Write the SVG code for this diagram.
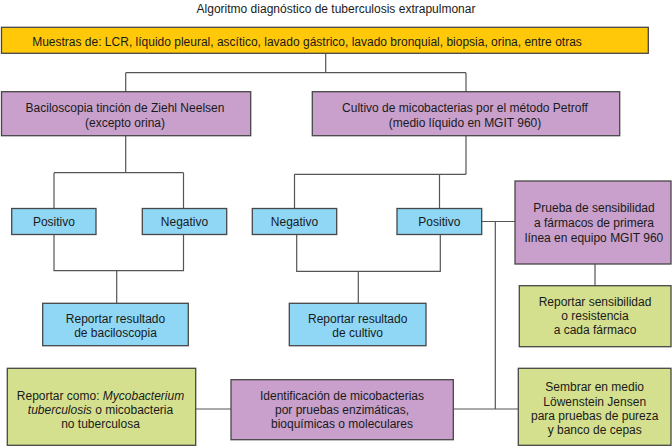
<svg xmlns="http://www.w3.org/2000/svg" width="672" height="447" viewBox="0 0 672 447">
<style>
  text { font-family: "Liberation Sans", Arial, sans-serif; font-size: 12px; fill: #1a1a1a; text-anchor: middle; }
  .box { stroke: #474747; stroke-width: 1.3; }
  .yellow { fill: #FFC90A; }
  .purple { fill: #C8A0CB; }
  .blue { fill: #8FD7F5; }
  .green { fill: #D5E08E; }
  .conn { fill: none; stroke: #555555; stroke-width: 1.2; }
  .it { font-style: italic; }
</style>
<rect width="672" height="447" fill="#ffffff"/>
<text id="title" x="336" y="12.5">Algoritmo diagnóstico de tuberculosis extrapulmonar</text>

<g id="connectors" class="conn">
  <path d="M325.7 53.3 V72.7 M125.7 72.7 H466 M125.7 72.7 V91.7 M466 72.7 V91.7"/>
  <path d="M125.7 135.7 V172.7 M54 172.7 H183.5 M54 172.7 V208.5 M183.5 172.7 V208.5"/>
  <path d="M466 135.7 V174.3 M294.5 174.3 H466 M294.5 174.3 V208.5 M439.5 174.3 V208.5"/>
  <path d="M54 234.5 V270.7 H183.5 V234.5 M116.7 270.7 V303.3"/>
  <path d="M296.7 234.5 V271.3 H440.3 V234.5 M358.3 271.3 V303.3"/>
  <path d="M481.7 221.5 H515 M495.3 221.5 V409 M453.3 409 H518.3 M195.7 409 H231"/>
  <path d="M595 264 V285.7"/>
</g>

<g id="muestras">
  <rect class="box yellow" x="1.5" y="27.3" width="646.8" height="26"/>
  <text x="307" y="45.5">Muestras de: LCR, líquido pleural, ascítico, lavado gástrico, lavado bronquial, biopsia, orina, entre otras</text>
</g>

<g id="baciloscopia">
  <rect class="box purple" x="1.5" y="91.7" width="249.2" height="44"/>
  <text x="125" y="112">Baciloscopia tinción de Ziehl Neelsen</text>
  <text x="125" y="127">(excepto orina)</text>
</g>

<g id="cultivo">
  <rect class="box purple" x="312.3" y="91.7" width="307.4" height="44"/>
  <text x="465" y="112">Cultivo de micobacterias por el método Petroff</text>
  <text x="465" y="127">(medio líquido en MGIT 960)</text>
</g>

<g id="bac-positivo">
  <rect class="box blue" x="11.7" y="208.5" width="84.3" height="26"/>
  <text x="53.9" y="225.8">Positivo</text>
</g>
<g id="bac-negativo">
  <rect class="box blue" x="142.3" y="208.5" width="84.4" height="26"/>
  <text x="184.5" y="225.8">Negativo</text>
</g>
<g id="cul-negativo">
  <rect class="box blue" x="252.3" y="208.5" width="84.4" height="26"/>
  <text x="294.5" y="225.8">Negativo</text>
</g>
<g id="cul-positivo">
  <rect class="box blue" x="397" y="208.5" width="84.7" height="26"/>
  <text x="439.3" y="225.8">Positivo</text>
</g>

<g id="prueba-sensibilidad">
  <rect class="box purple" x="515" y="181" width="156" height="83"/>
  <text x="594" y="212">Prueba de sensibilidad</text>
  <text x="594" y="227">a fármacos de primera</text>
  <text x="594" y="242">línea en equipo MGIT 960</text>
</g>

<g id="reportar-baciloscopia">
  <rect class="box blue" x="42.7" y="303.3" width="145.6" height="42.4"/>
  <text x="115.5" y="322.5">Reportar resultado</text>
  <text x="115.5" y="336.5">de baciloscopia</text>
</g>

<g id="reportar-cultivo">
  <rect class="box blue" x="289.3" y="303.3" width="136.7" height="42.4"/>
  <text x="357.7" y="322.5">Reportar resultado</text>
  <text x="357.7" y="336.5">de cultivo</text>
</g>

<g id="reportar-sensibilidad">
  <rect class="box green" x="519.3" y="285.7" width="151.7" height="61"/>
  <text x="595" y="305.5">Reportar sensibilidad</text>
  <text x="595" y="319.5">o resistencia</text>
  <text x="595" y="334">a cada fármaco</text>
</g>

<g id="reportar-como">
  <rect class="box green" x="7.3" y="368.3" width="188.4" height="77"/>
  <text x="100.5" y="400"><tspan>Reportar como: </tspan><tspan class="it">Mycobacterium</tspan></text>
  <text x="100.5" y="414"><tspan class="it">tuberculosis</tspan><tspan> o micobacteria</tspan></text>
  <text x="100.5" y="428">no tuberculosa</text>
</g>

<g id="identificacion">
  <rect class="box purple" x="231" y="379.7" width="222.3" height="60"/>
  <text x="342" y="400">Identificación de micobacterias</text>
  <text x="342" y="414">por pruebas enzimáticas,</text>
  <text x="342" y="428">bioquímicas o moleculares</text>
</g>

<g id="sembrar">
  <rect class="box green" x="518.3" y="368.3" width="152.7" height="77"/>
  <text x="594.7" y="391">Sembrar en medio</text>
  <text x="594.7" y="405.5">Löwenstein Jensen</text>
  <text x="594.7" y="419.5">para pruebas de pureza</text>
  <text x="594.7" y="433.5">y banco de cepas</text>
</g>
</svg>
